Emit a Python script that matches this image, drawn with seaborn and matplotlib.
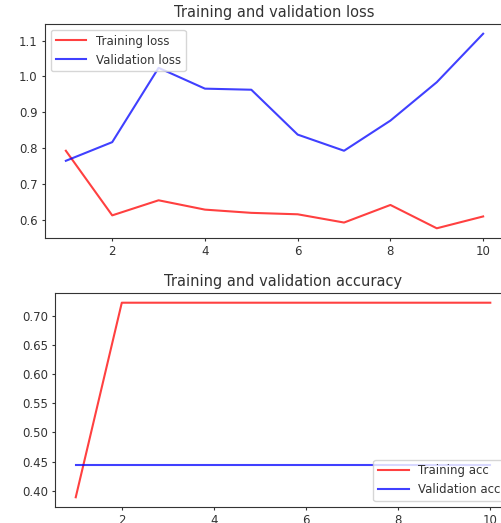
import matplotlib
matplotlib.use("Agg")
import matplotlib.pyplot as plt
import seaborn as sns
import pandas as pd

# epochs and history values
epochs = [1, 2, 3, 4, 5, 6, 7, 8, 9, 10]
train_loss = [0.793, 0.613, 0.655, 0.629, 0.620, 0.616, 0.593, 0.642, 0.577, 0.610]
val_loss = [0.765, 0.817, 1.024, 0.966, 0.963, 0.838, 0.793, 0.877, 0.984, 1.119]
train_acc = [0.3889, 0.7222, 0.7222, 0.7222, 0.7222, 0.7222, 0.7222, 0.7222, 0.7222, 0.7222]
val_acc = [0.4444] * 10

plt.rcParams['font.family'] = ['DejaVu Sans']
plt.rcParams['axes.edgecolor'] = '#333333'
plt.rcParams['xtick.color'] = '#333333'
plt.rcParams['ytick.color'] = '#333333'
plt.rcParams['text.color'] = '#333333'
plt.rcParams['xtick.major.size'] = 2.2
plt.rcParams['ytick.major.size'] = 2.2
plt.rcParams['xtick.major.pad'] = 2.5
plt.rcParams['ytick.major.pad'] = 3.0

df = pd.DataFrame({'epoch': epochs, 'train_loss': train_loss, 'val_loss': val_loss,
                   'train_acc': train_acc, 'val_acc': val_acc})

fig = plt.figure(figsize=(5.01, 5.23), dpi=100)
# original figure was cropped on the right, so axes run past the edge
ax1 = fig.add_axes([0.0898, 0.5449, 0.9162, 0.4092])
ax2 = fig.add_axes([0.1098, 0.0306, 0.9102, 0.4092])

red = (1.0, 0.0, 0.0, 0.75)
blue = (0.0, 0.0, 1.0, 0.75)

sns.lineplot(data=df, x='epoch', y='train_loss', color=red, lw=1.5, label='Training loss', ax=ax1)
sns.lineplot(data=df, x='epoch', y='val_loss', color=blue, lw=1.5, label='Validation loss', ax=ax1)
ax1.set_title('Training and validation loss', fontsize=10.5, pad=5)
ax1.legend(loc='upper left', fontsize=8.5, handlelength=2.6)

sns.lineplot(data=df, x='epoch', y='train_acc', color=red, lw=1.5, label='Training acc', ax=ax2)
sns.lineplot(data=df, x='epoch', y='val_acc', color=blue, lw=1.5, label='Validation acc', ax=ax2)
ax2.set_title('Training and validation accuracy', fontsize=10.5, pad=5)
ax2.legend(loc='lower right', fontsize=8.5, handlelength=2.6)

for ax in (ax1, ax2):
    ax.set_xlabel('')
    ax.set_ylabel('')
    ax.set_xticks([2, 4, 6, 8, 10])
    ax.tick_params(labelsize=8.5)

ax2.set_yticks([0.40, 0.45, 0.50, 0.55, 0.60, 0.65, 0.70])
ax2.set_yticklabels(['0.40', '0.45', '0.50', '0.55', '0.60', '0.65', '0.70'])

fig.savefig('out.png', dpi=100)
